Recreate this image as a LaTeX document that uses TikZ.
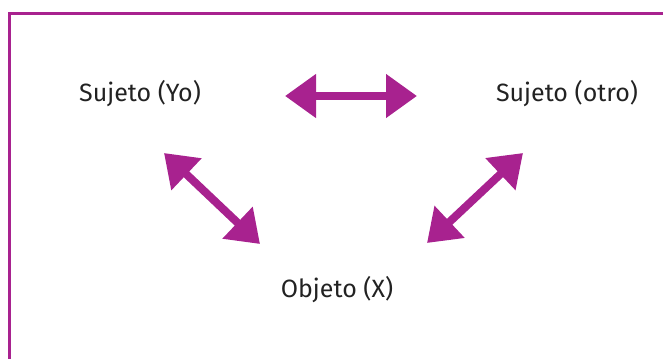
\documentclass[tikz,border=0pt]{standalone}
\usepackage{fontspec}
\setmainfont{Fira Sans}
\usetikzlibrary{arrows.meta}
\definecolor{magentaline}{HTML}{A8228F}
\definecolor{textgray}{HTML}{222222}
\tikzset{
  label text/.style={text=textgray, font=\fontsize{25}{30}\selectfont, inner sep=0pt, anchor=center},
  frame line/.style={draw=magentaline, line width=3pt},
  big arrow/.style={draw=magentaline, line width=8pt,
    {Triangle[length=31pt,width=42pt,fill=magentaline]}-{Triangle[length=31pt,width=42pt,fill=magentaline]}}
}
\begin{document}
\begin{tikzpicture}[x=1pt,y=-1pt]
  \useasboundingbox (0,0) rectangle (663,359);
  % frame on top and left
  \draw[frame line] (8,13) -- (663,13);
  \draw[frame line] (9.5,12) -- (9.5,359);
  % labels
  \node[label text] (yo) at (140,94) {Sujeto (Yo)};
  \node[label text] (otro) at (567,94) {Sujeto (otro)};
  \node[label text] (obj) at (337,290) {Objeto (X)};
  % arrow end points
  \coordinate (h1) at (285,96);
  \coordinate (h2) at (417,96);
  \coordinate (l1) at (164,153);
  \coordinate (l2) at (260,244);
  \coordinate (r1) at (523,153);
  \coordinate (r2) at (427,243);
  % arrows
  \draw[big arrow] (h1) -- (h2);
  \draw[big arrow] (l1) -- (l2);
  \draw[big arrow] (r1) -- (r2);
\end{tikzpicture}
\end{document}
